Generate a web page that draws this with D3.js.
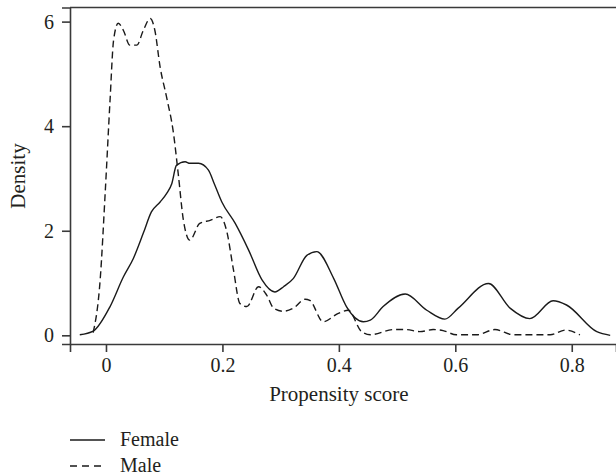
<!DOCTYPE html>
<html>
<head>
<meta charset="utf-8">
<script src="https://cdn.jsdelivr.net/npm/d3@7"></script>
<style>
  body { margin: 0; background: #fff; }
  text { font-family: "Liberation Serif", "DejaVu Serif", serif; fill: #231f20; }
</style>
</head>
<body>
<div id="chart"></div>
<script>
// propensity score grid points + densities
var femaleX = [-0.045, -0.022, 0.007, 0.03, 0.047, 0.064, 0.078, 0.093, 0.104, 0.113, 0.121, 0.136, 0.144, 0.159, 0.176, 0.186, 0.199, 0.222, 0.245, 0.268, 0.290, 0.305, 0.322, 0.345, 0.362, 0.391, 0.413, 0.442, 0.454, 0.476, 0.514, 0.551, 0.582, 0.605, 0.657, 0.694, 0.728, 0.768, 0.791, 0.843, 0.866];
var femaleY = [0.01, 0.08, 0.55, 1.12, 1.47, 1.95, 2.36, 2.55, 2.71, 2.9, 3.25, 3.32, 3.29, 3.29, 3.16, 2.9, 2.55, 2.14, 1.63, 1.06, 0.83, 0.93, 1.09, 1.53, 1.60, 1.09, 0.55, 0.26, 0.29, 0.55, 0.79, 0.48, 0.31, 0.52, 0.99, 0.52, 0.32, 0.66, 0.58, 0.07, 0.0];

var maleX = [-0.022, -0.01, -0.001, 0.007, 0.013, 0.021, 0.03, 0.041, 0.053, 0.064, 0.076, 0.084, 0.093, 0.104, 0.116, 0.124, 0.133, 0.144, 0.161, 0.179, 0.196, 0.207, 0.219, 0.230, 0.242, 0.262, 0.276, 0.288, 0.305, 0.322, 0.342, 0.350, 0.373, 0.399, 0.416, 0.439, 0.454, 0.494, 0.516, 0.539, 0.562, 0.579, 0.602, 0.637, 0.668, 0.70, 0.763, 0.789, 0.814];
var maleY = [0.05, 1.06, 2.8, 4.5, 5.64, 5.97, 5.83, 5.55, 5.55, 5.83, 6.06, 5.83, 5.13, 4.56, 3.86, 3.1, 2.2, 1.82, 2.14, 2.2, 2.27, 2.01, 1.25, 0.61, 0.55, 0.93, 0.77, 0.52, 0.46, 0.52, 0.69, 0.67, 0.26, 0.42, 0.48, 0.07, 0.01, 0.11, 0.11, 0.07, 0.11, 0.09, 0.01, 0.01, 0.11, 0.01, 0.01, 0.10, 0.01];

var xTicks = [0, 0.2, 0.4, 0.6, 0.8];
var yTicks = [0, 2, 4, 6];
var legendLabels = ["Female", "Male"];

var width = 616, height = 476;
var margin = {top: 7.5, right: 0, bottom: 132, left: 70};

var svg = d3.select('#chart')
  .append('svg')
  .attr('width', width)
  .attr('height', height);

var x = d3.scaleLinear()
  .domain([-0.0618, 0.876])
  .range([margin.left, width - margin.right]);

var y = d3.scaleLinear()
  .domain([-0.166, 6.27])
  .range([height - margin.bottom, margin.top]);

// top border line
svg.append('line')
  .attr('x1', margin.left).attr('x2', width)
  .attr('y1', margin.top).attr('y2', margin.top)
  .style('stroke', '#3a3a3a')
  .style('stroke-width', '1.6px');

var xAxis = svg.append('g')
  .attr('transform', 'translate(0,' + (height - margin.bottom) + ')')
  .call(d3.axisBottom(x).tickValues(xTicks).tickSizeOuter(0).tickSize(8).tickPadding(6)
    .tickFormat(function (d) { return d === 0 ? '0' : d3.format('.1f')(d); }));

var yAxis = svg.append('g')
  .attr('transform', 'translate(' + margin.left + ',0)')
  .call(d3.axisLeft(y).tickValues(yTicks).tickSizeOuter(0).tickSize(8).tickPadding(8)
    .tickFormat(d3.format('d')));

svg.selectAll('.domain, .tick line')
  .style('stroke', '#3a3a3a')
  .style('stroke-width', '1.6px');
svg.selectAll('.tick text')
  .style('font-family', '"Liberation Serif", serif')
  .style('font-size', '20px')
  .attr('fill', '#231f20');

// axis titles
svg.append('text')
  .attr('x', x(0.4))
  .attr('y', 401)
  .attr('text-anchor', 'middle')
  .style('font-size', '21px')
  .text('Propensity score');

svg.append('text')
  .attr('transform', 'translate(25,176) rotate(-90)')
  .attr('text-anchor', 'middle')
  .style('font-size', '21px')
  .text('Density');

var line = d3.line()
  .curve(d3.curveMonotoneX)
  .x(function (d) { return x(d[0]); })
  .y(function (d) { return y(d[1]); });

var female = femaleX.map(function (v, i) { return [v, femaleY[i]]; });
var male = maleX.map(function (v, i) { return [v, maleY[i]]; });

svg.append('path')
  .datum(female)
  .attr('d', line)
  .style('fill', 'none')
  .style('stroke', '#1a1a1a')
  .style('stroke-width', '1.4px');

svg.append('path')
  .datum(male)
  .attr('d', line)
  .style('fill', 'none')
  .style('stroke', '#1a1a1a')
  .style('stroke-width', '1.4px')
  .style('stroke-dasharray', '7,4');

// legend
var legend = svg.selectAll('.legend')
  .data(legendLabels)
  .enter().append('g')
  .attr('class', 'legend')
  .attr('transform', function (d, i) { return 'translate(70,' + (440 + i * 26) + ')'; });

legend.append('line')
  .attr('x1', 0).attr('x2', 35)
  .attr('y1', 0).attr('y2', 0)
  .style('stroke', '#1a1a1a')
  .style('stroke-width', '1.4px')
  .style('stroke-dasharray', function (d, i) { return i === 1 ? '7,5' : null; });

legend.append('text')
  .attr('x', 50)
  .attr('y', 6)
  .style('font-size', '20px')
  .text(function (d) { return d; });
</script>
</body>
</html>
